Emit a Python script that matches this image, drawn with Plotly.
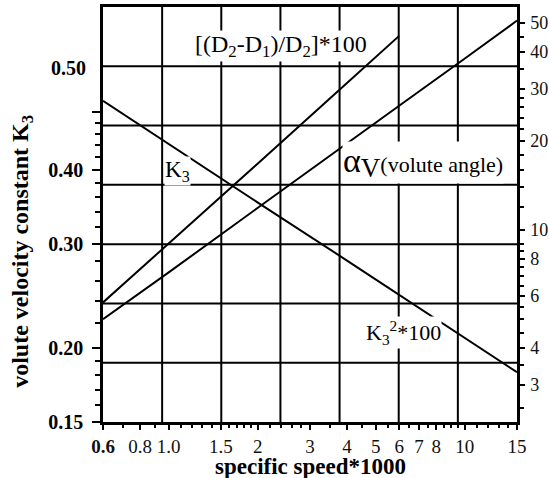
import math
import plotly.graph_objects as go

# ---- data ----
ns_k3 = [0.6, 1.0, 2.0, 4.0, 6.0, 10.0, 15.0]
k3 = [0.523, 0.442, 0.352, 0.281, 0.246, 0.208, 0.182]

ns_d = [0.6, 1.0, 2.0, 4.0, 6.0]
d_ratio = [5.7, 9.0, 16.8, 31.4, 45.3]

ns_a = [0.6, 1.0, 2.0, 4.0, 6.0, 10.0, 15.0]
alpha_v = [5.0, 7.2, 11.9, 19.7, 26.3, 38.0, 51.0]

x_ticks = [0.6, 0.8, 1.0, 1.5, 2, 3, 4, 5, 6, 7, 8, 10, 15]
x_ticktext = ["<b>0.6</b>", "0.8", "1.0", "1.5", "2", "3", "4", "5", "6", "7", "8", "10", "15"]
x_minor = [0.7, 0.9, 1.1, 1.2, 1.3, 1.4, 1.6, 1.7, 1.8, 1.9, 2.2, 2.4, 2.6, 2.8,
           3.5, 4.5, 5.5, 6.5, 7.5, 8.5, 9, 9.5, 11, 12, 13, 14]

y_ticks = [0.15, 0.2, 0.3, 0.4, 0.5]
y_ticktext = ["0.15", "0.20", "0.30", "0.40", " "]
y_minor = [0.16, 0.17, 0.18, 0.19, 0.22, 0.24, 0.26, 0.28, 0.32, 0.34, 0.36, 0.38,
           0.42, 0.44, 0.46, 0.48]

y2_ticks = [3, 4, 6, 8, 10, 20, 30, 40, 50]
y2_minor = [2.5, 3.5, 4.5, 5, 5.5, 6.5, 7, 7.5, 8.5, 9, 12, 14, 16, 18,
            22, 24, 26, 28, 35, 45]

x_range = [0.6, 15]
y_range = [0.15, 0.753]
y2_range = [2.25, 56.7]

SERIF = "Liberation Serif"
LW = 2

fig = go.Figure()
fig.add_trace(go.Scatter(x=ns_k3, y=k3, mode="lines", line=dict(color="black", width=LW),
                         yaxis="y", showlegend=False))
fig.add_trace(go.Scatter(x=ns_d, y=d_ratio, mode="lines", line=dict(color="black", width=LW),
                         yaxis="y2", showlegend=False))
fig.add_trace(go.Scatter(x=ns_a, y=alpha_v, mode="lines", line=dict(color="black", width=LW),
                         yaxis="y2", showlegend=False))

# uniform 7 x 7 grid (independent of the tick values)
shapes = []
for k in range(1, 7):
    shapes.append(dict(type="line", xref="paper", yref="paper", x0=k / 7, x1=k / 7, y0=0, y1=1,
                       line=dict(color="black", width=2), layer="below"))
    shapes.append(dict(type="line", xref="paper", yref="paper", y0=k / 7, y1=k / 7, x0=0, x1=1,
                       line=dict(color="black", width=2), layer="below"))

annotations = [
    dict(text="0.50", xref="paper", yref="paper", x=0, y=0.853, xanchor="right", yanchor="middle",
         xshift=-15, showarrow=False, font=dict(family=SERIF, size=20, color="black", weight="bold")),
    dict(text="specific speed*1000", xref="paper", yref="paper", x=0.5, y=0,
         xanchor="center", yanchor="middle", yshift=-44, showarrow=False,
         font=dict(family=SERIF, size=23, color="black", weight="bold")),
    dict(text="volute velocity constant K<sub>3</sub>", xref="paper", yref="paper", x=0, y=0.41,
         xanchor="center", yanchor="middle", xshift=-81, textangle=-90, showarrow=False,
         font=dict(family=SERIF, size=24, color="black", weight="bold")),
    dict(text="[(D<sub>2</sub>-D<sub>1</sub>)/D<sub>2</sub>]*100", xref="paper", yref="paper",
         x=0.43, y=0.905, xanchor="center", yanchor="middle", showarrow=False,
         bgcolor="white", borderpad=0, font=dict(family=SERIF, size=24, color="black")),
    dict(text="K<sub>3</sub>", xref="paper", yref="paper", x=0.18, y=0.605,
         xanchor="center", yanchor="middle", showarrow=False,
         bgcolor="white", borderpad=0, font=dict(family=SERIF, size=23, color="black")),
    dict(text="<span style='font-size:34px'>α</span><sub><span style='font-size:27px'>V</span></sub>(volute angle)",
         xref="paper", yref="paper", x=0.577, y=0.625, xanchor="left", yanchor="middle",
         showarrow=False, bgcolor="white", borderpad=0,
         font=dict(family=SERIF, size=22, color="black")),
    dict(text="K<sub>3</sub><sup>2</sup>*100", xref="paper", yref="paper", x=0.725, y=0.215,
         xanchor="center", yanchor="middle", showarrow=False,
         bgcolor="white", borderpad=0, font=dict(family=SERIF, size=22, color="black")),
]

fig.update_layout(
    width=549, height=478,
    margin=dict(l=103, r=32, t=7, b=56, autoexpand=False),
    paper_bgcolor="white", plot_bgcolor="white",
    shapes=shapes, annotations=annotations,
    xaxis=dict(
        type="log", range=[math.log10(x_range[0]), math.log10(x_range[1])],
        tickmode="array", tickvals=x_ticks, ticktext=x_ticktext, automargin=False,
        ticks="outside", ticklen=5, tickwidth=2, tickcolor="black", ticklabelstandoff=0,
        minor=dict(tickmode="array", tickvals=x_minor, ticks="outside", ticklen=3,
                   tickwidth=2, tickcolor="black", showgrid=False),
        showgrid=False, zeroline=False, showline=True, linecolor="black", linewidth=2.5,
        mirror=True,
        tickfont=dict(family=SERIF, size=19, color="#111"),
    ),
    yaxis=dict(
        type="log", range=[math.log10(y_range[0]), math.log10(y_range[1])],
        tickmode="array", tickvals=y_ticks, ticktext=y_ticktext, automargin=False,
        ticks="outside", ticklen=8, tickwidth=2, tickcolor="black", ticklabelstandoff=5,
        minor=dict(tickmode="array", tickvals=y_minor, ticks="outside", ticklen=5,
                   tickwidth=2, tickcolor="black", showgrid=False),
        showgrid=False, zeroline=False, showline=True, linecolor="black", linewidth=2.5,
        tickfont=dict(family=SERIF, size=20, color="black", weight="bold"),
    ),
    yaxis2=dict(
        type="log", range=[math.log10(y2_range[0]), math.log10(y2_range[1])],
        overlaying="y", side="right", anchor="x", automargin=False,
        tickmode="array", tickvals=y2_ticks, ticktext=[str(v) for v in y2_ticks],
        ticks="outside", ticklen=5, tickwidth=2, tickcolor="black", ticklabelstandoff=2,
        minor=dict(tickmode="array", tickvals=y2_minor, ticks="outside", ticklen=4,
                   tickwidth=2, tickcolor="black", showgrid=False),
        showgrid=False, zeroline=False, showline=True, linecolor="black", linewidth=2.5,
        tickfont=dict(family=SERIF, size=18, color="#111"),
    ),
)

fig.write_html("out.html", config={"displayModeBar": False},
               post_script="document.body.style.margin='0px';")
